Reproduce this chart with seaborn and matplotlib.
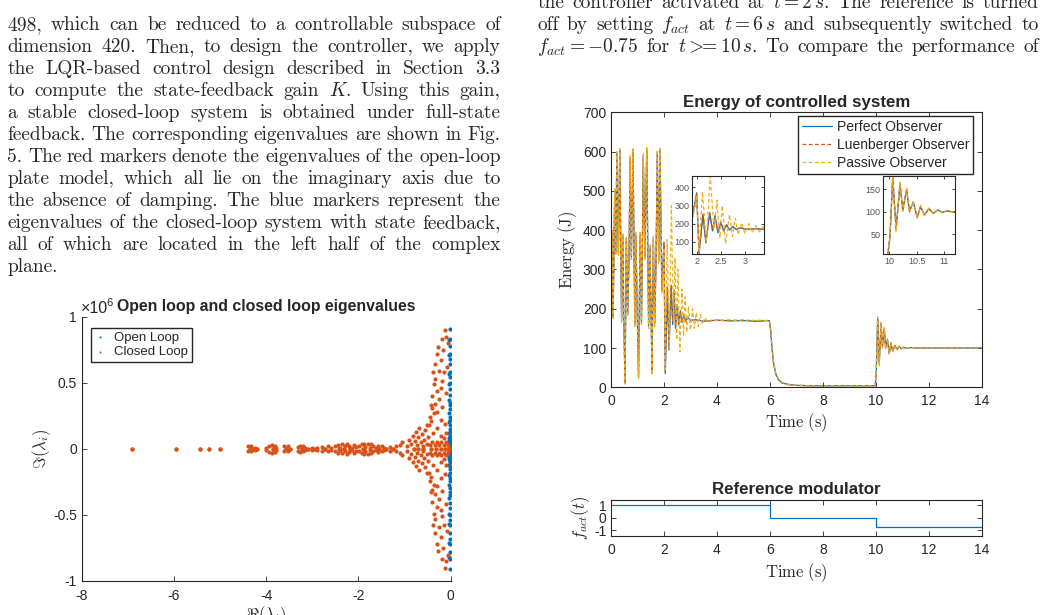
import matplotlib
matplotlib.use('Agg')
import matplotlib.pyplot as plt
import seaborn as sns

# Page text (left column and top of right column)
left_lines = [
    "498, which can be reduced to a controllable subspace of",
    "dimension 420. Then, to design the controller, we apply",
    "the LQR-based control design described in Section 3.3",
    "to compute the state-feedback gain $K$. Using this gain,",
    "a stable closed-loop system is obtained under full-state",
    "feedback. The corresponding eigenvalues are shown in Fig.",
    "5. The red markers denote the eigenvalues of the open-loop",
    "plate model, which all lie on the imaginary axis due to",
    "the absence of damping. The blue markers represent the",
    "eigenvalues of the closed-loop system with state feedback,",
    "all of which are located in the left half of the complex",
    "plane.",
]
right_lines = [
    r"the controller activated at $t=2\,s$. The reference is turned",
    r"off by setting $f_{act}$ at $t=6\,s$ and subsequently switched to",
    r"$f_{act}=-0.75$ for $t>\!\!\!=10\,s$. To compare the performance of",
]

# Eigenvalues (imaginary part in units of 1e6), upper half plane, mirrored below
open_loop_upper = [
    (-0.02, 0.91), (-0.01, 0.83), (-0.03, 0.82), (-0.02, 0.78), (-0.01, 0.72),
    (-0.03, 0.71), (-0.02, 0.68), (-0.01, 0.64), (-0.02, 0.58), (-0.03, 0.57),
    (-0.01, 0.54), (-0.02, 0.50), (-0.03, 0.49), (-0.01, 0.45), (-0.02, 0.41),
    (-0.03, 0.37), (-0.01, 0.35), (-0.02, 0.33), (-0.02, 0.30), (-0.03, 0.27),
    (-0.01, 0.24), (-0.02, 0.22), (-0.03, 0.20), (-0.02, 0.18), (-0.01, 0.15),
    (-0.02, 0.13), (-0.03, 0.12), (-0.02, 0.10), (-0.01, 0.09), (-0.04, 0.08),
    (-0.02, 0.07), (-0.03, 0.06), (-0.01, 0.05), (-0.04, 0.04), (-0.02, 0.035),
    (-0.03, 0.03), (-0.01, 0.025), (-0.04, 0.02), (-0.02, 0.015), (-0.03, 0.01),
    (-0.01, 0.005), (-0.02, 0.0),
]
closed_loop_upper = [
    (-6.92, 0.0), (-5.96, 0.0), (-5.44, 0.0), (-5.25, 0.0), (-5.00, 0.0),
    (-4.40, 0.02), (-4.36, 0.0), (-4.32, 0.02), (-4.28, 0.0), (-4.24, 0.01), (-4.20, 0.0),
    (-4.00, 0.01), (-3.95, 0.025), (-3.88, 0.03), (-3.82, 0.025), (-3.78, 0.01), (-3.85, 0.0),
    (-3.62, 0.02), (-3.58, 0.0), (-3.52, 0.02), (-3.48, 0.0),
    (-3.30, 0.015), (-3.26, 0.025), (-3.20, 0.02), (-3.15, 0.01), (-3.10, 0.0), (-3.22, 0.0),
    (-3.00, 0.01), (-2.95, 0.0), (-2.90, 0.01),
    (-2.78, 0.015), (-2.72, 0.0), (-2.66, 0.02), (-2.60, 0.01),
    (-2.50, 0.02), (-2.45, 0.03), (-2.40, 0.01), (-2.36, 0.035), (-2.30, 0.02),
    (-2.25, 0.04), (-2.20, 0.025), (-2.15, 0.01), (-2.10, 0.03), (-2.05, 0.015),
    (-2.42, 0.0), (-2.32, 0.0), (-2.18, 0.0),
    (-1.98, 0.02), (-1.93, 0.035), (-1.87, 0.04), (-1.80, 0.04), (-1.73, 0.035),
    (-1.68, 0.02), (-1.62, 0.01), (-1.58, 0.025), (-1.55, 0.0), (-1.85, 0.015),
    (-1.75, 0.01), (-1.90, 0.0),
    (-1.50, 0.02), (-1.45, 0.01), (-1.40, 0.0),
    (-1.32, 0.015), (-1.25, 0.0), (-1.18, 0.02), (-1.10, 0.03), (-1.05, 0.05),
    (-0.95, 0.02), (-0.90, 0.07), (-0.85, 0.04), (-0.82, 0.10), (-0.78, 0.06),
    (-0.75, 0.13), (-0.72, 0.03), (-0.70, 0.09), (-0.68, 0.16), (-0.65, 0.05),
    (-0.62, 0.11), (-0.60, 0.02), (-0.58, 0.07), (-0.55, 0.14), (-0.52, 0.04),
    (-0.50, 0.09), (-0.80, 0.0), (-0.70, 0.0), (-0.60, 0.0),
    (-0.45, 0.03), (-0.40, 0.05), (-0.35, 0.03), (-0.30, 0.05), (-0.25, 0.03),
    (-0.20, 0.05), (-0.15, 0.03), (-0.10, 0.05), (-0.05, 0.03), (-0.42, 0.0),
    (-0.32, 0.0), (-0.22, 0.0), (-0.12, 0.0), (-0.03, 0.01),
    (-0.48, 0.18), (-0.42, 0.21), (-0.38, 0.12), (-0.30, 0.16), (-0.22, 0.10),
    (-0.15, 0.08), (-0.10, 0.12),
    (-0.52, 0.18), (-0.44, 0.24), (-0.37, 0.27), (-0.40, 0.31), (-0.42, 0.33),
    (-0.35, 0.34), (-0.30, 0.28), (-0.20, 0.22), (-0.12, 0.19), (-0.18, 0.32),
    (-0.25, 0.38),
    (-0.41, 0.40), (-0.30, 0.44), (-0.37, 0.49), (-0.19, 0.51), (-0.35, 0.53),
    (-0.26, 0.59), (-0.34, 0.64), (-0.22, 0.67), (-0.29, 0.72), (-0.17, 0.75),
    (-0.28, 0.77), (-0.11, 0.85), (-0.19, 0.83), (-0.12, 0.90), (-0.08, 0.62),
    (-0.10, 0.42), (-0.14, 0.58), (-0.06, 0.80), (-0.38, 0.58), (-0.20, 0.46),
]

# Energy of controlled system (J) vs time (s)
t_obs = [0.00, 0.03, 0.08, 0.14, 0.18, 0.22, 0.28, 0.33, 0.40, 0.45,
         0.48, 0.53, 0.58, 0.63, 0.68, 0.72, 0.77, 0.83, 0.90, 0.94,
         1.00, 1.04, 1.10, 1.15, 1.18, 1.22, 1.28, 1.35, 1.42, 1.47,
         1.52, 1.55, 1.60, 1.65, 1.70, 1.75, 1.80, 1.85, 1.92, 2.00,
         2.05, 2.13, 2.19, 2.27, 2.33, 2.38, 2.44, 2.50, 2.56, 2.62,
         2.68, 2.75, 2.82, 2.90, 3.00, 3.20, 3.50, 4.00, 4.50, 5.00,
         5.50, 5.98, 6.03, 6.08, 6.14, 6.22, 6.32, 6.45, 6.65, 6.95,
         7.50, 8.50, 9.98, 10.02, 10.07, 10.13, 10.20, 10.25, 10.32, 10.37,
         10.44, 10.51, 10.57, 10.64, 10.72, 10.80, 10.88, 10.96, 11.05, 11.15,
         11.30, 11.60, 12.50, 13.50, 14.00]
e_perfect = [0, 395, 180, 500, 340, 595, 340, 605, 170, 385,
             180, 10, 380, 185, 330, 585, 330, 605, 160, 390,
             160, 25, 390, 165, 330, 590, 330, 607, 155, 360,
             160, 35, 380, 160, 320, 600, 320, 605, 250, 370,
             35, 250, 95, 260, 160, 245, 150, 210, 160, 195,
             165, 185, 168, 178, 170, 172, 168, 171, 169, 170,
             168, 170, 145, 100, 62, 35, 20, 12, 8, 5,
             4, 4, 4, 45, 178, 60, 163, 103, 150, 100,
             122, 86, 112, 92, 107, 96, 104, 98, 102, 99,
             101, 100, 100, 100, 100]
e_luenberger = [0, 390, 185, 495, 345, 590, 345, 600, 175, 380,
                185, 12, 375, 190, 335, 580, 335, 600, 165, 385,
                165, 28, 385, 170, 335, 585, 335, 602, 160, 355,
                165, 38, 375, 165, 325, 595, 325, 600, 245, 365,
                40, 255, 100, 255, 165, 240, 155, 205, 162, 192,
                167, 183, 170, 176, 171, 171, 169, 170, 170, 171,
                169, 170, 143, 98, 60, 33, 19, 11, 7, 5,
                4, 4, 4, 42, 175, 63, 160, 106, 148, 102,
                120, 88, 110, 93, 106, 97, 103, 99, 101, 100,
                100, 100, 100, 100, 100]
t_passive = [0.00, 0.03, 0.08, 0.14, 0.18, 0.22, 0.28, 0.33, 0.40, 0.45,
             0.48, 0.53, 0.58, 0.63, 0.68, 0.72, 0.77, 0.83, 0.90, 0.94,
             1.00, 1.04, 1.10, 1.15, 1.18, 1.22, 1.28, 1.35, 1.42, 1.47,
             1.52, 1.55, 1.60, 1.65, 1.70, 1.75, 1.80, 1.85, 1.93, 2.00,
             2.05, 2.12, 2.20, 2.28, 2.36, 2.42, 2.48, 2.53, 2.60, 2.68,
             2.74, 2.80, 2.86, 2.93, 3.00, 3.08, 3.15, 3.22, 3.30, 3.38,
             3.45, 3.55, 3.65, 3.80, 4.00, 4.50, 5.00, 5.50, 5.98, 6.03,
             6.08, 6.14, 6.22, 6.32, 6.45, 6.65, 6.95, 7.50, 8.50, 9.98,
             10.02, 10.07, 10.13, 10.20, 10.25, 10.32, 10.37, 10.44, 10.51, 10.57,
             10.64, 10.72, 10.80, 10.88, 10.96, 11.05, 11.15, 11.30, 11.60, 12.50,
             13.50, 14.00]
e_passive = [0, 400, 175, 505, 335, 600, 335, 608, 165, 390,
             175, 8, 385, 180, 325, 590, 325, 608, 155, 395,
             155, 22, 395, 160, 325, 595, 325, 610, 150, 365,
             155, 32, 385, 155, 315, 605, 315, 608, 240, 355,
             45, 376, 100, 462, 170, 330, 120, 300, 90, 250,
             130, 230, 140, 205, 145, 200, 150, 190, 155, 185,
             160, 178, 165, 172, 170, 172, 168, 171, 170, 150,
             104, 64, 37, 21, 13, 8, 5, 4, 4, 4,
             40, 180, 55, 166, 100, 152, 98, 124, 84, 114,
             90, 108, 95, 105, 97, 103, 98, 102, 100, 100,
             100, 100]

# Reference modulator steps
t_ref = [0, 6, 10, 14]
f_ref = [1, 0, -0.75, -0.75]

BLUE, ORANGE, YELLOW, AX = '#0072BD', '#D95319', '#EDB120', '#262626'
W, H = 1046, 615

sns.set_style('ticks')
plt.rcParams['font.family'] = ['Liberation Sans', 'DejaVu Sans']
plt.rcParams['mathtext.fontset'] = 'cm'
plt.rcParams['axes.unicode_minus'] = False

fig = plt.figure(figsize=(W / 100, H / 100), dpi=100)
renderer = fig.canvas.get_renderer()


def px_axes(x0, y0, x1, y1):
    return fig.add_axes([x0 / W, 1 - y1 / H, (x1 - x0) / W, (y1 - y0) / H])


def matlab_look(ax, box=True, size=10, length=3.5, pad=3.5):
    for name, sp in ax.spines.items():
        sp.set_color(AX)
        sp.set_linewidth(0.8)
        if not box and name in ('top', 'right'):
            sp.set_visible(False)
    ax.tick_params(direction='in', length=length, width=0.6, color=AX,
                   labelsize=size, labelcolor=AX, top=box, right=box, pad=pad)


def justified(lines, x0, x1, y0, dy, fs=14, last_full=False):
    for i, line in enumerate(lines):
        words = line.split(' ')
        y = 1 - (y0 + i * dy) / H
        arts = [fig.text(0, y, w, fontsize=fs, family='cmr10', va='baseline') for w in words]
        widths = [a.get_window_extent(renderer).width for a in arts]
        if (i < len(lines) - 1 or last_full) and len(words) > 1:
            gap = (x1 - x0 - sum(widths)) / (len(words) - 1)
        else:
            gap = fs * 100 / 72 * 0.33
        x = x0
        for a, w in zip(arts, widths):
            a.set_x(x / W)
            x += w + gap


justified(left_lines, 7.3, 500.5, 30.3, 21.95)
justified(right_lines, 537.3, 1038.5, 8.5, 22.0, last_full=True)

# ---- eigenvalue plot ----
ax1 = px_axes(81.7, 316.7, 450.7, 581)
ol_re = [p[0] for p in open_loop_upper] + [p[0] for p in open_loop_upper]
ol_im = [p[1] for p in open_loop_upper] + [-p[1] for p in open_loop_upper]
cl_re = [p[0] for p in closed_loop_upper] + [p[0] for p in closed_loop_upper]
cl_im = [p[1] for p in closed_loop_upper] + [-p[1] for p in closed_loop_upper]
sns.scatterplot(x=ol_re, y=ol_im, color=BLUE, s=9, linewidth=0, ax=ax1, label='Open Loop', legend=False)
sns.scatterplot(x=cl_re, y=cl_im, color=ORANGE, s=9, linewidth=0, ax=ax1, label='Closed Loop', legend=False)
ax1.set_xlim(-8, 0)
ax1.set_ylim(-1, 1)
ax1.set_xticks([-8, -6, -4, -2, 0])
ax1.set_yticks([-1, -0.5, 0, 0.5, 1])
ax1.set_yticklabels(['-1', '-0.5', '0', '0.5', '1'])
matlab_look(ax1, box=False)
ax1.tick_params(axis='x', pad=6)
ax1.set_xlabel(r'$\Re(\lambda_i)$', fontsize=12, color=AX, labelpad=1)
ax1.set_ylabel(r'$\Im(\lambda_i)$', fontsize=12, color=AX, labelpad=0)
ax1.set_title('Open loop and closed loop eigenvalues', fontweight='bold', fontsize=11.4, pad=4)
ax1.legend(loc='upper left', bbox_to_anchor=(0.0244, 0.9584), borderaxespad=0, fontsize=9.5,
           frameon=True, fancybox=False, edgecolor=AX, framealpha=1, markerscale=0.5,
           handlelength=0.8, handletextpad=0.7, labelspacing=0.15, borderpad=0.3)
fig.text(81.0 / W, 1 - 312.7 / H, '×10', fontsize=11.5, color=AX, va='baseline')
fig.text(106.5 / W, 1 - 306.0 / H, '6', fontsize=8, color=AX, va='baseline')

# ---- energy plot ----
ax2 = px_axes(611, 112.3, 981.7, 387.3)


def draw_energy(ax):
    sns.lineplot(x=t_obs, y=e_perfect, color=BLUE, lw=0.9, ax=ax, estimator=None, sort=False,
                 label='Perfect Observer', legend=False)
    sns.lineplot(x=t_obs, y=e_luenberger, color=ORANGE, lw=0.9, ls=(0, (3, 2)), ax=ax,
                 estimator=None, sort=False, label='Luenberger Observer', legend=False)
    sns.lineplot(x=t_passive, y=e_passive, color=YELLOW, lw=0.9, ls=(0, (3, 2)), ax=ax,
                 estimator=None, sort=False, label='Passive Observer', legend=False)


draw_energy(ax2)
ax2.set_xlim(0, 14)
ax2.set_ylim(0, 700)
ax2.set_xticks(range(0, 15, 2))
ax2.set_yticks(range(0, 701, 100))
matlab_look(ax2)
ax2.tick_params(axis='x', pad=5)
ax2.set_xlabel(r'$\mathrm{Time\ (s)}$', fontsize=12, color=AX, labelpad=2)
ax2.set_ylabel(r'$\mathrm{Energy\ (J)}$', fontsize=12, color=AX, labelpad=3)
ax2.set_title('Energy of controlled system', fontweight='bold', fontsize=12.2, pad=4)
ax2.legend(loc='upper right', bbox_to_anchor=(0.9773, 0.9876), borderaxespad=0, fontsize=10,
           frameon=True, fancybox=False, edgecolor=AX, framealpha=1, handlelength=2.2,
           handletextpad=0.3, labelspacing=0.3, borderpad=0.3)

ins1 = px_axes(692.3, 175.7, 764.3, 254.3)
draw_energy(ins1)
ins1.set_xlim(1.91, 3.4)
ins1.set_ylim(32, 464)
ins1.set_xticks([2, 2.5, 3])
ins1.set_xticklabels(['2', '2.5', '3'])
ins1.set_yticks([100, 200, 300, 400])

ins2 = px_axes(883.3, 175.7, 955, 254.3)
draw_energy(ins2)
ins2.set_xlim(9.9, 11.19)
ins2.set_ylim(5, 180)
ins2.set_xticks([10, 10.5, 11])
ins2.set_xticklabels(['10', '10.5', '11'])
ins2.set_yticks([50, 100, 150])
for ins in (ins1, ins2):
    ins.set_xlabel('')
    ins.set_ylabel('')
    ins.set_facecolor('white')
    matlab_look(ins, size=6.5, length=2, pad=2)
    ins.tick_params(labelcolor='#555555')

# ---- reference modulator ----
ax3 = px_axes(611, 500, 981.7, 535.7)
sns.lineplot(x=t_ref, y=f_ref, color=BLUE, lw=0.9, drawstyle='steps-post', ax=ax3,
             estimator=None, sort=False)
ax3.set_xlim(0, 14)
ax3.set_ylim(-1.45, 1.4)
ax3.set_xticks(range(0, 15, 2))
ax3.set_yticks([-1, 0, 1])
ax3.set_yticklabels(['-1', '0', '1'])
matlab_look(ax3)
ax3.tick_params(axis='x', pad=5)
ax3.set_xlabel(r'$\mathrm{Time\ (s)}$', fontsize=12, color=AX, labelpad=3)
ax3.set_ylabel(r'$f_{act}(t)$', fontsize=12, color=AX, labelpad=1)
ax3.set_title('Reference modulator', fontweight='bold', fontsize=12.2, pad=4)

fig.savefig('out.png', dpi=100)
